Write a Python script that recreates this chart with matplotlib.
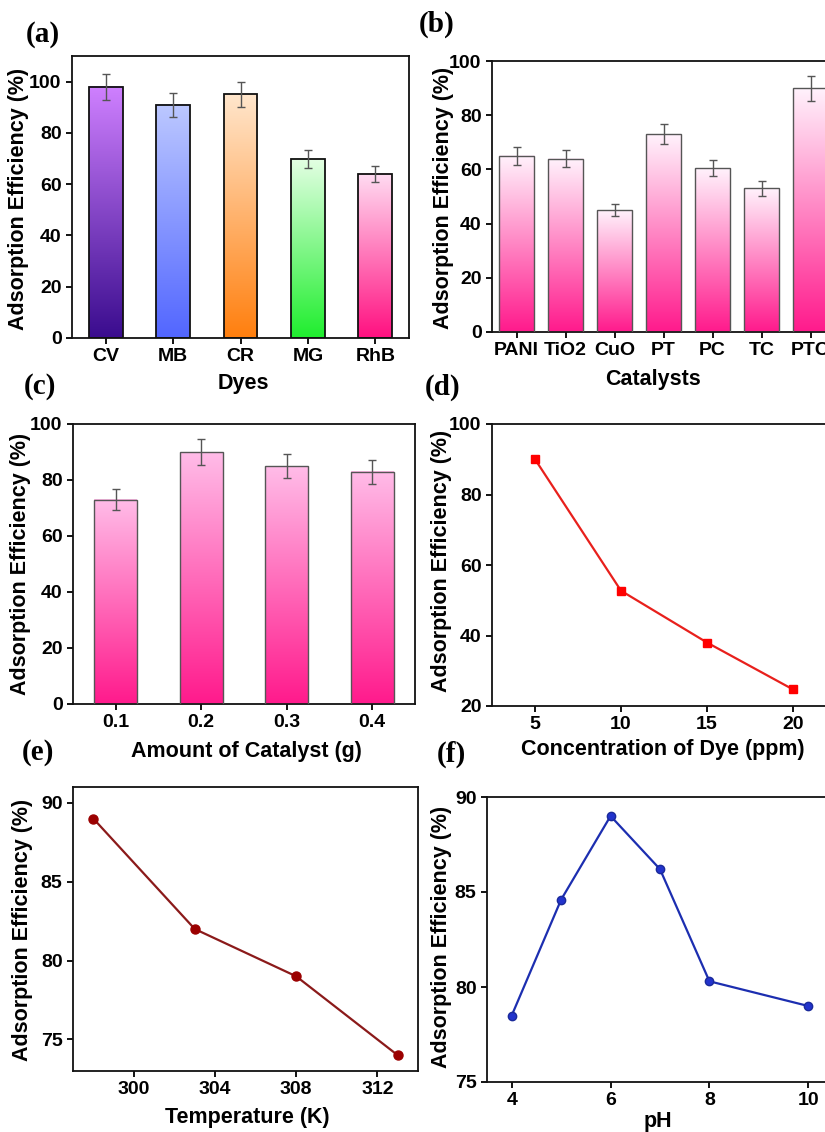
import numpy as np
import matplotlib
matplotlib.use("Agg")
import matplotlib.pyplot as plt
from matplotlib.colors import LinearSegmentedColormap

plt.rcParams['font.family'] = ['Liberation Sans', 'DejaVu Sans']
plt.rcParams['font.weight'] = 'bold'

W, H = 825, 1132

# (a) dyes
dyes = ['CV', 'MB', 'CR', 'MG', 'RhB']
dye_eff = [98, 91, 95, 70, 64]
dye_err = [5, 4.7, 4.8, 3.5, 3]
dye_bottom = ['#3a0c8e', '#5266ff', '#ff7f0e', '#1fee2e', '#ff1080']
dye_top = ['#cf80ff', '#bcc8ff', '#ffe6cc', '#e4ffe4', '#ffdcf2']

# (b) catalysts
catalysts = ['PANI', 'TiO2', 'CuO', 'PT', 'PC', 'TC', 'PTC']
cat_eff = [65, 64, 45, 73, 60.5, 53, 90]
cat_err = [3.2, 3.2, 2.3, 3.8, 3.0, 2.8, 4.6]

# (c) amount of catalyst
amount = ['0.1', '0.2', '0.3', '0.4']
amount_eff = [73, 90, 85, 83]
amount_err = [3.8, 4.5, 4.3, 4.3]

# (d) dye concentration
conc = [5, 10, 15, 20]
conc_eff = [90, 52.7, 38, 24.7]

# (e) temperature
temp = [298, 303, 308, 313]
temp_eff = [89, 82, 79, 74]

# (f) pH
ph = [4, 5, 6, 7, 8, 10]
ph_eff = [78.5, 84.6, 89.0, 86.2, 80.3, 79.0]

YLAB = 'Adsorption Efficiency (%)'


def px_axes(fig, left, top, right, bottom):
    return fig.add_axes([left / W, 1 - bottom / H, (right - left) / W, (bottom - top) / H])


def style(ax):
    for s in ax.spines.values():
        s.set_linewidth(1.3)
        s.set_color('#111111')
    ax.tick_params(direction='out', length=4.5, width=1.3, labelsize=14, pad=3,
                   top=False, right=False)


def gradient_bars(ax, heights, errs, width, bottoms, tops, edge, lw):
    x = np.arange(len(heights))
    bars = ax.bar(x, heights, width, facecolor='none', edgecolor=edge,
                  linewidth=lw, zorder=3)
    grad = np.linspace(0, 1, 256).reshape(-1, 1)
    for bar, c0, c1 in zip(bars, bottoms, tops):
        cmap = LinearSegmentedColormap.from_list('g', [c0, c1])
        ax.imshow(grad, cmap=cmap, origin='lower', aspect='auto', zorder=2,
                  extent=[bar.get_x(), bar.get_x() + bar.get_width(), 0, bar.get_height()])
    ax.errorbar(x, heights, yerr=errs, fmt='none', ecolor='#555555',
                elinewidth=1, capsize=3, capthick=1, zorder=4)
    ax.set_xlim(-0.5, len(heights) - 0.5)
    ax.set_xticks(x)


def fig_label(fig, x, y, s, **kw):
    fig.text(x / W, 1 - y / H, s, ha='center', va='center', **kw)


fig = plt.figure(figsize=(W / 100, H / 100), dpi=100)

# (a)
ax = px_axes(fig, 72, 56, 409, 338)
gradient_bars(ax, dye_eff, dye_err, 0.5, dye_bottom, dye_top, '#111111', 1.3)
ax.set_xticklabels(dyes)
ax.set_ylim(0, 110)
ax.set_yticks([0, 20, 40, 60, 80, 100])
style(ax)

# (b)
ax = px_axes(fig, 492, 61, 835, 332)
n = len(cat_eff)
gradient_bars(ax, cat_eff, cat_err, 0.72, ['#ff1a8c'] * n, ['#fff2fc'] * n, '#555555', 1.0)
ax.set_xticklabels(catalysts)
ax.set_ylim(0, 100)
ax.set_yticks([0, 20, 40, 60, 80, 100])
style(ax)

# (c)
ax = px_axes(fig, 73, 424, 415, 704)
n = len(amount_eff)
gradient_bars(ax, amount_eff, amount_err, 0.5, ['#ff1a8c'] * n, ['#ffbce8'] * n, '#555555', 1.0)
ax.set_xticklabels(amount)
ax.set_ylim(0, 100)
ax.set_yticks([0, 20, 40, 60, 80, 100])
style(ax)

# (d)
ax = px_axes(fig, 492, 424, 836, 706)
ax.plot(conc, conc_eff, color='#e8201c', lw=1.6, marker='s', ms=6,
        mfc='#ff0000', mec='#ff0000')
ax.set_xlim(2.5, 22.5)
ax.set_ylim(20, 100)
ax.set_xticks(conc)
ax.set_yticks([20, 40, 60, 80, 100])
style(ax)

# (e)
ax = px_axes(fig, 73, 787, 418, 1071)
ax.plot(temp, temp_eff, color='#8b1a1a', lw=1.6, marker='o', ms=6.5,
        mfc='#9b0000', mec='#9b0000')
ax.set_xlim(297, 314)
ax.set_ylim(73, 91)
ax.set_xticks([300, 304, 308, 312])
ax.set_yticks([75, 80, 85, 90])
style(ax)

# (f)
ax = px_axes(fig, 487, 797, 833, 1082)
ax.plot(ph, ph_eff, color='#1c2eb0', lw=1.6, marker='o', ms=6,
        mfc='#2233cc', mec='#1a2a9a')
ax.set_xlim(3.5, 10.5)
ax.set_ylim(75, 90)
ax.set_xticks([4, 6, 8, 10])
ax.set_yticks([75, 80, 85, 90])
style(ax)

# axis titles
ylab_pos = [(19, 199), (444, 198), (21, 564), (441, 561), (23, 930), (441, 937)]
for x, y in ylab_pos:
    fig_label(fig, x, y, YLAB, rotation=90, fontsize=15.5, fontweight='bold')

xlabs = [(243, 383, 'Dyes'), (653, 380, 'Catalysts'),
         (246, 751, 'Amount of Catalyst (g)'), (663, 749, 'Concentration of Dye (ppm)'),
         (247, 1118, 'Temperature (K)'), (658, 1121, 'pH')]
for x, y, s in xlabs:
    fig_label(fig, x, y, s, fontsize=15.5, fontweight='bold')

panel = [(43, 34, '(a)'), (437, 24, '(b)'), (40, 386, '(c)'),
         (443, 387, '(d)'), (38, 752, '(e)'), (451, 754, '(f)')]
for x, y, s in panel:
    fig_label(fig, x, y, s, fontsize=21, fontweight='bold',
              family=['Liberation Serif', 'DejaVu Serif'])

fig.savefig('out.png', dpi=100, facecolor='white')
